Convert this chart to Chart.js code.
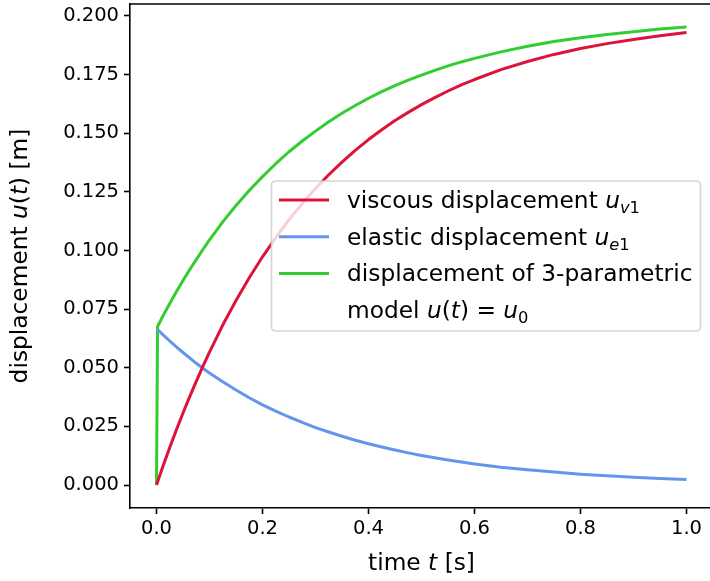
<!DOCTYPE html>
<html>
<head>
<meta charset="utf-8">
<script src="https://cdn.jsdelivr.net/npm/chart.js@4"></script>
<style>
  html, body { margin: 0; padding: 0; background: #fff; overflow: hidden; }
</style>
</head>
<body>
<canvas id="chart" width="713" height="581"></canvas>
<script>
// time samples [s]
const times   = [0, 0.002, 0.0125, 0.025, 0.0375, 0.05, 0.0625, 0.075, 0.0875, 0.1, 0.125, 0.15, 0.175, 0.2, 0.225, 0.25, 0.275, 0.3, 0.325, 0.35, 0.375, 0.4, 0.425, 0.45, 0.475, 0.5, 0.525, 0.55, 0.575, 0.6, 0.65, 0.7, 0.75, 0.8, 0.85, 0.9, 0.95, 1.0];
// displacements [m]
const viscous = [0, 0.0013, 0.0082, 0.0160, 0.0235, 0.0307, 0.0376, 0.0442, 0.0506, 0.0567, 0.0682, 0.0787, 0.0884, 0.0973, 0.1055, 0.1131, 0.1200, 0.1264, 0.1323, 0.1377, 0.1427, 0.1473, 0.1515, 0.1554, 0.1589, 0.1622, 0.1652, 0.1680, 0.1706, 0.1729, 0.1771, 0.1806, 0.1836, 0.1861, 0.1882, 0.1900, 0.1916, 0.1929];
const elastic = [null, 0.0663, 0.0640, 0.0614, 0.0589, 0.0565, 0.0542, 0.0519, 0.0498, 0.0478, 0.0440, 0.0405, 0.0372, 0.0342, 0.0315, 0.0290, 0.0267, 0.0245, 0.0226, 0.0208, 0.0191, 0.0176, 0.0162, 0.0149, 0.0137, 0.0126, 0.0116, 0.0107, 0.0098, 0.0090, 0.0076, 0.0065, 0.0055, 0.0046, 0.0039, 0.0033, 0.0028, 0.0024];
const total   = [0, 0.0676, 0.0722, 0.0774, 0.0824, 0.0872, 0.0918, 0.0961, 0.1004, 0.1045, 0.1122, 0.1192, 0.1256, 0.1315, 0.1370, 0.1421, 0.1467, 0.1509, 0.1549, 0.1585, 0.1618, 0.1649, 0.1677, 0.1703, 0.1726, 0.1748, 0.1768, 0.1787, 0.1804, 0.1819, 0.1847, 0.1871, 0.1891, 0.1907, 0.1921, 0.1933, 0.1944, 0.1953];

const seriesNames = ["viscous displacement u_v1", "elastic displacement u_e1", "displacement of 3-parametric model u(t) = u_0"];
const xTicks = [0, 0.2, 0.4, 0.6, 0.8, 1.0];
const yTicks = [0, 0.025, 0.05, 0.075, 0.1, 0.125, 0.15, 0.175, 0.2];

const FONT = '"DejaVu Sans", sans-serif';
const TICK_FS = 19.5;
const FS = 23.3;

const pts = ys => times.map((t, i) => ({ x: t, y: ys[i] }));

// draw text made of roman / italic / subscript pieces
function drawRich(ctx, parts, x, y, align) {
  const fontFor = p => (p[1] ? "italic " : "") + (p[2] ? FS * 0.7 : FS) + "px " + FONT;
  let w = 0;
  parts.forEach(p => { ctx.font = fontFor(p); w += ctx.measureText(p[0]).width; });
  let cx = align === "center" ? x - w / 2 : x;
  ctx.textAlign = "left";
  ctx.textBaseline = "alphabetic";
  parts.forEach(p => {
    ctx.font = fontFor(p);
    ctx.fillText(p[0], cx, y + (p[2] ? FS * 0.22 : 0));
    cx += ctx.measureText(p[0]).width;
  });
}

const legendRows = [
  { color: "crimson", parts: [["viscous displacement ", 0, 0], ["u", 1, 0], ["v", 1, 1], ["1", 0, 1]] },
  { color: "cornflowerblue", parts: [["elastic displacement ", 0, 0], ["u", 1, 0], ["e", 1, 1], ["1", 0, 1]] },
  { color: "limegreen", parts: [["displacement of 3-parametric", 0, 0]] },
  { color: null, parts: [["model ", 0, 0], ["u", 1, 0], ["(", 0, 0], ["t", 1, 0], [")", 0, 0], [" = ", 0, 0], ["u", 1, 0], ["0", 0, 1]] }
];

const decor = {
  id: "decor",
  afterDatasetsDraw(chart) {
    const { ctx, chartArea: a } = chart;
    ctx.save();
    // top and right spines
    ctx.strokeStyle = "#000";
    ctx.lineWidth = 1.6;
    ctx.beginPath();
    ctx.moveTo(a.left, a.top);
    ctx.lineTo(a.right, a.top);
    ctx.lineTo(a.right, a.bottom);
    ctx.stroke();

    // legend
    const bx = 271.5, by = 181, bw = 429, bh = 150;
    ctx.beginPath();
    ctx.roundRect(bx, by, bw, bh, 4);
    ctx.fillStyle = "rgba(255,255,255,0.8)";
    ctx.fill();
    ctx.strokeStyle = "rgba(204,204,204,0.8)";
    ctx.lineWidth = 1.6;
    ctx.stroke();
    legendRows.forEach((row, i) => {
      const cy = 200 + i * 36.8;
      if (row.color) {
        ctx.strokeStyle = row.color;
        ctx.lineWidth = 3;
        ctx.beginPath();
        ctx.moveTo(279, cy);
        ctx.lineTo(329, cy);
        ctx.stroke();
      }
      ctx.fillStyle = "#000";
      drawRich(ctx, row.parts, 347, cy + 7.8, "left");
    });

    // axis titles
    ctx.fillStyle = "#000";
    drawRich(ctx, [["time ", 0, 0], ["t", 1, 0], [" [s]", 0, 0]], (a.left + a.right) / 2, 570, "center");
    ctx.translate(27, (a.top + a.bottom) / 2);
    ctx.rotate(-Math.PI / 2);
    drawRich(ctx, [["displacement ", 0, 0], ["u", 1, 0], ["(", 0, 0], ["t", 1, 0], [") [m]", 0, 0]], 0, 0, "center");
    ctx.restore();
  }
};

new Chart(document.getElementById("chart"), {
  type: "line",
  data: {
    datasets: [
      { label: seriesNames[0], data: pts(viscous), borderColor: "crimson" },
      { label: seriesNames[1], data: pts(elastic), borderColor: "cornflowerblue" },
      { label: seriesNames[2], data: pts(total), borderColor: "limegreen" }
    ]
  },
  options: {
    responsive: false,
    devicePixelRatio: 1,
    animation: false,
    layout: { padding: { top: 4, right: 0, left: 0, bottom: 0 } },
    elements: {
      point: { radius: 0 },
      line: { borderWidth: 3, tension: 0, fill: false, borderJoinStyle: "round" }
    },
    plugins: { legend: { display: false }, tooltip: { enabled: false } },
    scales: {
      x: {
        type: "linear",
        min: -0.05,
        max: 1.05,
        afterBuildTicks: s => { s.ticks = xTicks.map(v => ({ value: v })); },
        afterFit: s => { s.height = 73; s.paddingLeft = 0; s.paddingRight = 0; },
        ticks: {
          color: "#000",
          font: { family: FONT, size: TICK_FS },
          padding: 3,
          callback: v => v.toFixed(1)
        },
        grid: { drawOnChartArea: false, tickLength: 6, tickWidth: 1.6, tickColor: "#000" },
        border: { color: "#000", width: 1.6 }
      },
      y: {
        min: -0.0098,
        max: 0.2051,
        afterBuildTicks: s => { s.ticks = yTicks.map(v => ({ value: v })); },
        afterFit: s => { s.width = 130; s.paddingTop = 0; s.paddingBottom = 0; },
        ticks: {
          color: "#000",
          font: { family: FONT, size: TICK_FS },
          padding: 5,
          callback: v => v.toFixed(3)
        },
        grid: { drawOnChartArea: false, tickLength: 6, tickWidth: 1.6, tickColor: "#000" },
        border: { color: "#000", width: 1.6 }
      }
    }
  },
  plugins: [decor]
});
</script>
</body>
</html>
